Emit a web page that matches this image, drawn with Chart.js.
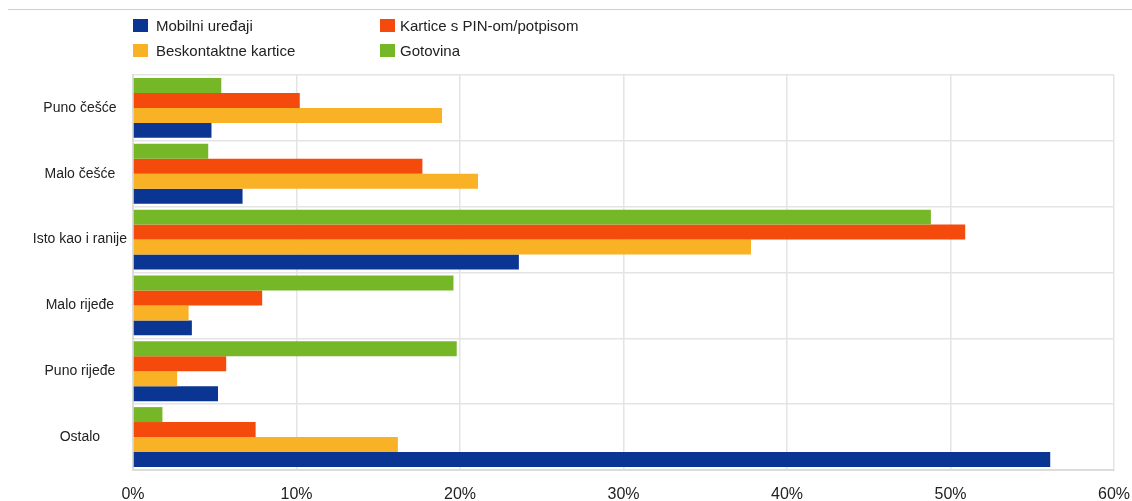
<!DOCTYPE html>
<html>
<head>
<meta charset="utf-8">
<script src="https://cdn.jsdelivr.net/npm/chart.js@4.4.1/dist/chart.umd.min.js"></script>
<style>
  body { margin: 0; background: #fff; font-family: "Liberation Sans", Arial, sans-serif; }
  #wrap { position: relative; width: 1132px; height: 501px; }
  #topline { position: absolute; left: 8px; right: 0; top: 9px; height: 1px; background: #cfcfcf; }
  #legend { position: absolute; left: 0; top: 0; }
  .leg { position: absolute; font-size: 15px; line-height: 17px; color: #222; white-space: nowrap; }
  .leg span { position: absolute; top: 2px; width: 15px; height: 13px; }
  canvas { position: absolute; left: 0; top: 0; }
</style>
</head>
<body>
<div id="wrap">
  <div id="topline"></div>
  <canvas id="chart" width="1132" height="501"></canvas>
  <div id="legend"></div>
</div>
<script>
// Kategorije i vrijednosti (%)
const kategorije = ["Puno češće", "Malo češće", "Isto kao i ranije", "Malo rijeđe", "Puno rijeđe", "Ostalo"];
const gotovina = [5.4, 4.6, 48.8, 19.6, 19.8, 1.8];
const kartice = [10.2, 17.7, 50.9, 7.9, 5.7, 7.5];
const beskontaktne = [18.9, 21.1, 37.8, 3.4, 2.7, 16.2];
const mobilni = [4.8, 6.7, 23.6, 3.6, 5.2, 56.1];
const xTicks = [0, 10, 20, 30, 40, 50, 60];

const boje = { mob: '#0b3592', kar: '#f44a0b', bes: '#f9b126', got: '#75b727' };

// legenda (redoslijed kao u originalu)
const legenda = [
  { tekst: "Mobilni uređaji", boja: boje.mob, x: 156, y: 17, pom: -23 },
  { tekst: "Kartice s PIN-om/potpisom", boja: boje.kar, x: 400, y: 17, pom: -20 },
  { tekst: "Beskontaktne kartice", boja: boje.bes, x: 156, y: 42, pom: -23 },
  { tekst: "Gotovina", boja: boje.got, x: 400, y: 42, pom: -20 }
];
const leg = document.getElementById("legend");
legenda.forEach(l => {
  leg.innerHTML += `<div class="leg" style="left:${l.x}px;top:${l.y}px"><span style="left:${l.pom}px;background:${l.boja}"></span>${l.tekst}</div>`;
});

const ctx = document.getElementById("chart").getContext("2d");
new Chart(ctx, {
  type: 'bar',
  data: {
    labels: kategorije,
    datasets: [
      { label: 'Gotovina', data: gotovina, backgroundColor: boje.got },
      { label: 'Kartice s PIN-om/potpisom', data: kartice, backgroundColor: boje.kar },
      { label: 'Beskontaktne kartice', data: beskontaktne, backgroundColor: boje.bes },
      { label: 'Mobilni uređaji', data: mobilni, backgroundColor: boje.mob }
    ]
  },
  options: {
    indexAxis: 'y',
    responsive: false,
    animation: false,
    categoryPercentage: 0.91,
    barPercentage: 1.0,
    layout: { padding: { top: 75, right: 0, bottom: 0, left: 0 } },
    plugins: { legend: { display: false }, tooltip: { enabled: false } },
    scales: {
      x: {
        min: 0, max: 60,
        afterBuildTicks: s => { s.ticks = xTicks.map(v => ({ value: v })); },
        afterFit: s => { s.height = 31; s.paddingRight = 18; s.paddingLeft = 0; },
        ticks: { callback: v => v + '%', color: '#222', padding: 17, font: { size: 16, lineHeight: 1.0, family: '"Liberation Sans", Arial' } },
        grid: { color: '#e4e4e4', lineWidth: 1.5, drawTicks: false },
        border: { color: '#dcdcdc', width: 2 }
      },
      y: {
        afterFit: s => { s.width = 133; s.paddingTop = 0; s.paddingBottom = 0; },
        ticks: { color: '#222', padding: 6, crossAlign: 'center', font: { size: 14, family: '"Liberation Sans", Arial' } },
        grid: { color: '#e4e4e4', lineWidth: 1.5, drawTicks: false },
        border: { color: '#dcdcdc', width: 2 }
      }
    }
  }
});
</script>
</body>
</html>
